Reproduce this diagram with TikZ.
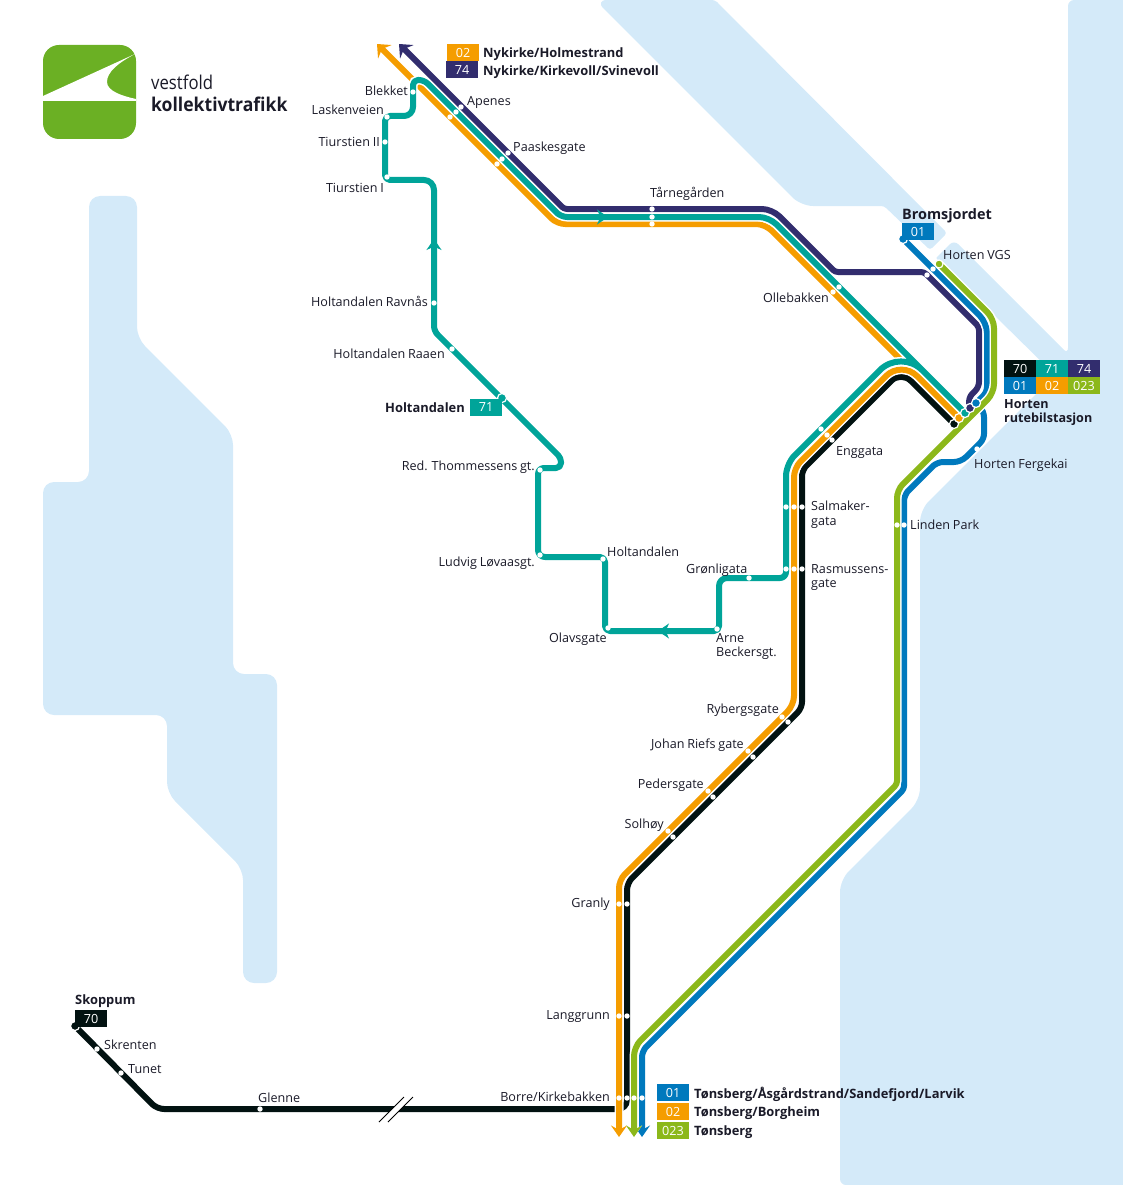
\documentclass[tikz,border=0pt]{standalone}
\usepackage{fontspec}
\setmainfont{Open Sans}[WordSpace=0.85]
\usetikzlibrary{arrows.meta}
\definecolor{cWater}{RGB}{212,234,249}
\definecolor{cOrange}{RGB}{245,157,0}
\definecolor{cPurple}{RGB}{50,45,110}
\definecolor{cTeal}{RGB}{0,164,153}
\definecolor{cBlue}{RGB}{0,121,189}
\definecolor{cGreen}{RGB}{140,184,26}
\definecolor{cBlack}{RGB}{2,18,17}
\definecolor{cLogo}{RGB}{107,176,36}
\definecolor{cText}{RGB}{26,26,40}
\tikzset{
  water/.style={fill=cWater,draw=none,rounded corners=11pt},
  route/.style={line width=6pt,line cap=butt,line join=round,preaction={draw=white,line width=9pt}},
  stopdot/.style={circle,fill=white,draw=none,inner sep=0pt,minimum size=5.4pt},
  termdot/.style={circle,draw=white,line width=1.2pt,inner sep=0pt,minimum size=9pt},
  lblbase/.style={inner sep=0pt,text=cText,font=\fontsize{12.6}{15}\selectfont,text height=9.5pt,text depth=3pt,yshift=-2pt},
  lbl/.style={lblbase,anchor=west},
  lblr/.style={lblbase,anchor=east},
  lblb/.style={lbl,font=\fontsize{12.9}{15}\selectfont\bfseries},
  lblbr/.style={lblr,font=\fontsize{12.9}{15}\selectfont\bfseries},
  multi/.style={inner sep=0pt,anchor=north west,align=left,text=cText,font=\fontsize{12.6}{14.5}\selectfont,yshift=-2pt},
  multib/.style={multi,font=\fontsize{12.6}{14}\selectfont\bfseries},
  boxn/.style={inner sep=0pt,minimum width=32pt,minimum height=17pt,text=white,font=\fontsize{12.6}{15}\selectfont},
  tipBig/.style={-{Stealth[length=11pt,width=19pt,inset=4pt]}},
  tipDown/.style={-{Stealth[length=11.5pt,width=16pt,inset=4.5pt]}},
  tipMid/.style={-{Stealth[length=11pt,width=15pt,inset=3.5pt]}},
  slash/.style={draw=black,line width=0.9pt},
}
\begin{document}
\begin{tikzpicture}[x=1pt,y=-1pt]
\useasboundingbox (0,0) rectangle (1123,1185);
\clip (0,0) rectangle (1123,1185);
% water
\fill[water] (89,196) -- (137,196) -- (137,338) -- (233,434) -- (233,674) -- (277,674) -- (277,983) -- (243,983) -- (243,869) -- (167,793) -- (167,715) -- (43,715) -- (43,482) -- (89,482) -- cycle;
\fill[cWater,rounded corners=3pt] (595,0) -- (715,0) -- (947,233) -- (930,250) -- (884,206) [rounded corners=12pt] -- (801,206) -- cycle;
\fill[cWater,rounded corners=6pt] (936,258) -- (954,240) -- (1068,354) -- (1068,0) -- (1140,0) -- (1140,1185) -- (840,1185) [rounded corners=12pt] -- (840,880) -- (920,800) -- (920,510) [rounded corners=1pt] -- (1055,375) -- cycle;
% logo
\fill[cLogo,rounded corners=16pt] (43,45) rectangle (136,139);
\fill[white] (43,96) -- (135,54) .. controls (118,63) and (107,72) .. (107,82) .. controls (107,91) and (122,96) .. (136,99) -- (136,101) -- (43,101) -- cycle;
\node[inner sep=0pt,anchor=base west,text=cText,font=\fontsize{19}{21}\selectfont\addfontfeature{FakeStretch=0.88}] (logoA) at (151,90) {vestfold};
\node[inner sep=0pt,anchor=base west,text=cText,font=\fontsize{19}{21}\selectfont\bfseries\addfontfeature{FakeStretch=0.925}] (logoB) at (151,112) {kollektivtrafikk};
% terminals
\coordinate (cBlackT) at (954,424);
\coordinate (cOrangeT) at (959,418);
\coordinate (cTealT) at (965,413);
\coordinate (cPurpleT) at (970,408);
\coordinate (cBlueT) at (976,403);
\coordinate (cBrom) at (903,239);
\coordinate (cVGS) at (939,264);
\coordinate (cSkoppum) at (75,1026);
\coordinate (endOrangeN) at (377,44);
\coordinate (endPurpleN) at (399,44);
\coordinate (endOrangeS) at (619,1137);
\coordinate (endGreenS) at (634,1137);
\coordinate (endBlueS) at (642,1137);
% black
\draw[route,cBlack] (cBlackT) [rounded corners=14pt] -- (901,371) [rounded corners=6pt] -- (802,470) [rounded corners=6pt] -- (802,708) [rounded corners=7pt] -- (627,883) [rounded corners=9pt] -- (627,1109) [rounded corners=7pt] -- (157,1109) -- (cSkoppum);
% line break
\coordinate (sA1) at (379,1122); \coordinate (sA2) at (404,1097);
\coordinate (sB1) at (388,1122); \coordinate (sB2) at (413,1097);
\fill[white] (sA1) -- (sA2) -- (sB2) -- (sB1) -- cycle;
\draw[slash] (sA1) -- (sA2);
\draw[slash] (sB1) -- (sB2);
% orange
\draw[route,cOrange,tipBig] (cOrangeT) [rounded corners=9pt] -- (765,224) [rounded corners=8pt] -- (557,224) -- (endOrangeN);
\draw[route,cOrange,tipDown] (cOrangeT) [rounded corners=22pt] -- (901.5,360.5) [rounded corners=9pt] -- (794,468) [rounded corners=9pt] -- (794,705) [rounded corners=8pt] -- (619,880) -- (endOrangeS);
% purple
\draw[route,cPurple,tipBig] (cPurpleT) [rounded corners=6pt] -- (968,398) [rounded corners=5pt] -- (979,387) [rounded corners=3pt] -- (979,327) [rounded corners=3pt] -- (924,272) [rounded corners=3pt] -- (835,272) [rounded corners=10pt] -- (772,209) [rounded corners=3pt] -- (564,209) -- (endPurpleN);
% teal
\draw[route,cTeal] (cTealT) [rounded corners=30pt] -- (901,349) [rounded corners=12pt] -- (786,464) [rounded corners=6pt] -- (786,578) [rounded corners=8pt] -- (719,578) [rounded corners=5pt] -- (719,631) [rounded corners=5pt] -- (605,631) [rounded corners=5pt] -- (605,557) [rounded corners=7pt] -- (538,557) [rounded corners=6pt] -- (538,468) [rounded corners=5pt] -- (561,468) [rounded corners=4pt] -- (561,458) [rounded corners=5pt] -- (434,331) [rounded corners=10pt] -- (434,180) [rounded corners=5pt] -- (385,180) [rounded corners=5pt] -- (385,116) [rounded corners=9pt] -- (413,116) [rounded corners=5pt] -- (413,80) [rounded corners=5pt] -- (424,80) [rounded corners=6pt] -- (561,217) [rounded corners=10pt] -- (769,217) -- (cTealT);
\coordinate (mA1) at (590,217); \coordinate (mA2) at (608,217);
\coordinate (mB1) at (434,262); \coordinate (mB2) at (434,239);
\coordinate (mC1) at (680,631); \coordinate (mC2) at (658,631);
\draw[cTeal,line width=6pt,tipMid] (mA1) -- (mA2);
\draw[cTeal,line width=6pt,tipMid] (mB1) -- (mB2);
\draw[cTeal,line width=6pt,tipMid] (mC1) -- (mC2);
% blue
\draw[route,cBlue] (cBrom) [rounded corners=10pt] -- (987,323) [rounded corners=5pt] -- (987,392) -- (cBlueT);
\draw[route,cBlue,tipDown] (cBlueT) [rounded corners=6pt] -- (984,411) [rounded corners=5pt] -- (984,439) [rounded corners=7pt] -- (961,462) [rounded corners=6pt] -- (937,462) [rounded corners=6pt] -- (904,495) [rounded corners=3pt] -- (904,789) [rounded corners=6pt] -- (642,1051) -- (endBlueS);
% green
\draw[route,cGreen,tipDown] (cVGS) [rounded corners=9pt] -- (994,319) [rounded corners=9pt] -- (994,393) [rounded corners=8pt] -- (897,490) [rounded corners=3pt] -- (897,784) [rounded corners=9pt] -- (634,1047) -- (endGreenS);
% terminal dots
\node[termdot,fill=cBlack] (tBlack) at (cBlackT) {};
\node[termdot,fill=cOrange] (tOrange) at (cOrangeT) {};
\node[termdot,fill=cTeal] (tTeal) at (cTealT) {};
\node[termdot,fill=cPurple] (tPurple) at (cPurpleT) {};
\node[termdot,fill=cBlue] (tBlue) at (cBlueT) {};
\node[termdot,fill=cBlue] (tBrom) at (cBrom) {};
\node[termdot,fill=cGreen,minimum size=8pt] (tVGS) at (cVGS) {};
\node[termdot,fill=cBlack] (tSkoppum) at (cSkoppum) {};
\node[termdot,fill=cTeal] (tHolt) at (502,398) {};
% stops
\node[stopdot] (s1) at (413,92) {};
\node[stopdot] (s2) at (387,117) {};
\node[stopdot] (s3) at (385,142) {};
\node[stopdot] (s4) at (387,177) {};
\node[stopdot] (s5) at (461,107) {};
\node[stopdot] (s6) at (456,112) {};
\node[stopdot] (s7) at (450,117) {};
\node[stopdot] (s8) at (508,153) {};
\node[stopdot] (s9) at (502,159) {};
\node[stopdot] (s10) at (497,164) {};
\node[stopdot] (s11) at (652,209) {};
\node[stopdot] (s12) at (652,217) {};
\node[stopdot] (s13) at (652,224) {};
\node[stopdot] (s14) at (839,287) {};
\node[stopdot] (s15) at (833,292) {};
\node[stopdot] (s16) at (933,269) {};
\node[stopdot] (s17) at (927,275) {};
\node[stopdot] (s18) at (434,303) {};
\node[stopdot] (s19) at (452,349) {};
\node[stopdot] (s20) at (540,470) {};
\node[stopdot] (s21) at (540,555) {};
\node[stopdot] (s22) at (603,559) {};
\node[stopdot] (s23) at (608,628) {};
\node[stopdot] (s24) at (717,629) {};
\node[stopdot] (s25) at (749,578) {};
\node[stopdot] (s26) at (821,429) {};
\node[stopdot] (s27) at (827,435) {};
\node[stopdot] (s28) at (832,440) {};
\node[stopdot] (s29) at (786,507) {};
\node[stopdot] (s30) at (794,507) {};
\node[stopdot] (s31) at (802,507) {};
\node[stopdot] (s32) at (786,569) {};
\node[stopdot] (s33) at (794,569) {};
\node[stopdot] (s34) at (802,569) {};
\node[stopdot] (s35) at (782,717) {};
\node[stopdot] (s36) at (788,722) {};
\node[stopdot] (s37) at (748,751) {};
\node[stopdot] (s38) at (753,757) {};
\node[stopdot] (s39) at (708,791) {};
\node[stopdot] (s40) at (713,797) {};
\node[stopdot] (s41) at (668,831) {};
\node[stopdot] (s42) at (673,837) {};
\node[stopdot] (s43) at (619,904) {};
\node[stopdot] (s44) at (627,904) {};
\node[stopdot] (s45) at (619,1016) {};
\node[stopdot] (s46) at (627,1016) {};
\node[stopdot] (s47) at (619,1098) {};
\node[stopdot] (s48) at (627,1098) {};
\node[stopdot] (s49) at (634,1098) {};
\node[stopdot] (s50) at (642,1098) {};
\node[stopdot] (s51) at (897,525) {};
\node[stopdot] (s52) at (904,525) {};
\node[stopdot] (s53) at (977,449) {};
\node[stopdot] (s54) at (97,1049) {};
\node[stopdot] (s55) at (121,1073) {};
\node[stopdot] (s56) at (260,1109) {};
% labels
\node[lblr] (l1) at (408,90) {Blekket};
\node[lblr] (l2) at (384,109) {Laskenveien};
\node[lblr] (l3) at (380,141) {Tiurstien II};
\node[lblr] (l4) at (384,187) {Tiurstien I};
\node[lbl] (l5) at (467,100) {Apenes};
\node[lbl] (l6) at (513,146) {Paaskesgate};
\node[lbl] (l7) at (650,192) {Tårnegården};
\node[lblr] (l8) at (829,297) {Ollebakken};
\node[lblb,font=\fontsize{14.4}{15}\selectfont\bfseries] (l9) at (902,214) {Bromsjordet};
\node[lbl] (l10) at (943,254) {Horten VGS};
\node[lblr] (l11) at (428,301) {Holtandalen Ravnås};
\node[lblr] (l12) at (445,353) {Holtandalen Raaen};
\node[lblbr] (l13) at (465,407) {Holtandalen};
\node[lblr] (l14) at (535,465) {Red. Thommessens gt.};
\node[lblr] (l15) at (535,561) {Ludvig Løvaasgt.};
\node[lbl] (l16) at (607,551) {Holtandalen};
\node[lbl] (l17) at (686,568) {Grønligata};
\node[lblr] (l18) at (607,637) {Olavsgate};
\node[multi] (l19) at (716,631) {Arne\\Beckersgt.};
\node[lbl] (l20) at (836,450) {Enggata};
\node[multi] (l21) at (811,499) {Salmaker-\\gata};
\node[multi] (l22) at (811,562) {Rasmussens-\\gate};
\node[lblr] (l23) at (779,708) {Rybergsgate};
\node[lblr] (l24) at (744,743) {Johan Riefs gate};
\node[lblr] (l25) at (704,783) {Pedersgate};
\node[lblr] (l26) at (664,823) {Solhøy};
\node[lblr] (l27) at (610,902) {Granly};
\node[lblr] (l28) at (610,1014) {Langgrunn};
\node[lblr] (l29) at (610,1096) {Borre/Kirkebakken};
\node[lbl] (l30) at (258,1097) {Glenne};
\node[lbl] (l31) at (128,1068) {Tunet};
\node[lbl] (l32) at (104,1044) {Skrenten};
\node[lblb] (l33) at (75,999) {Skoppum};
\node[lbl] (l34) at (974,463) {Horten Fergekai};
\node[lbl] (l35) at (910,524) {Linden Park};
\node[multib] (l36) at (1004,397) {Horten\\rutebilstasjon};
% boxes
\node[boxn,fill=cOrange] (bN02) at (463,52.5) {02};
\node[boxn,fill=cPurple] (bN74) at (462,70) {74};
\node[lblb] (tN02) at (483,52) {Nykirke/Holmestrand};
\node[lblb] (tN74) at (483,70) {Nykirke/Kirkevoll/Svinevoll};
\node[boxn,fill=cBlue] (bBrom) at (918,231.5) {01};
\node[boxn,fill=cTeal] (bHolt) at (486,407) {71};
\node[boxn,fill=cBlack] (bSkop) at (91,1018.5) {70};
\node[boxn,fill=cBlack] (g70) at (1020,368.5) {70};
\node[boxn,fill=cTeal] (g71) at (1052,368.5) {71};
\node[boxn,fill=cPurple] (g74) at (1084,368.5) {74};
\node[boxn,fill=cBlue] (g01) at (1020,385.5) {01};
\node[boxn,fill=cOrange] (g02) at (1052,385.5) {02};
\node[boxn,fill=cGreen] (g023) at (1084,385.5) {023};
\node[boxn,fill=cBlue] (bS01) at (673,1092.5) {01};
\node[boxn,fill=cOrange] (bS02) at (673,1111.5) {02};
\node[boxn,fill=cGreen] (bS023) at (673,1130.5) {023};
\node[lblb] (tS01) at (694,1093) {Tønsberg/Åsgårdstrand/Sandefjord/Larvik};
\node[lblb] (tS02) at (694,1111) {Tønsberg/Borgheim};
\node[lblb] (tS023) at (694,1130) {Tønsberg};
\end{tikzpicture}
\end{document}
